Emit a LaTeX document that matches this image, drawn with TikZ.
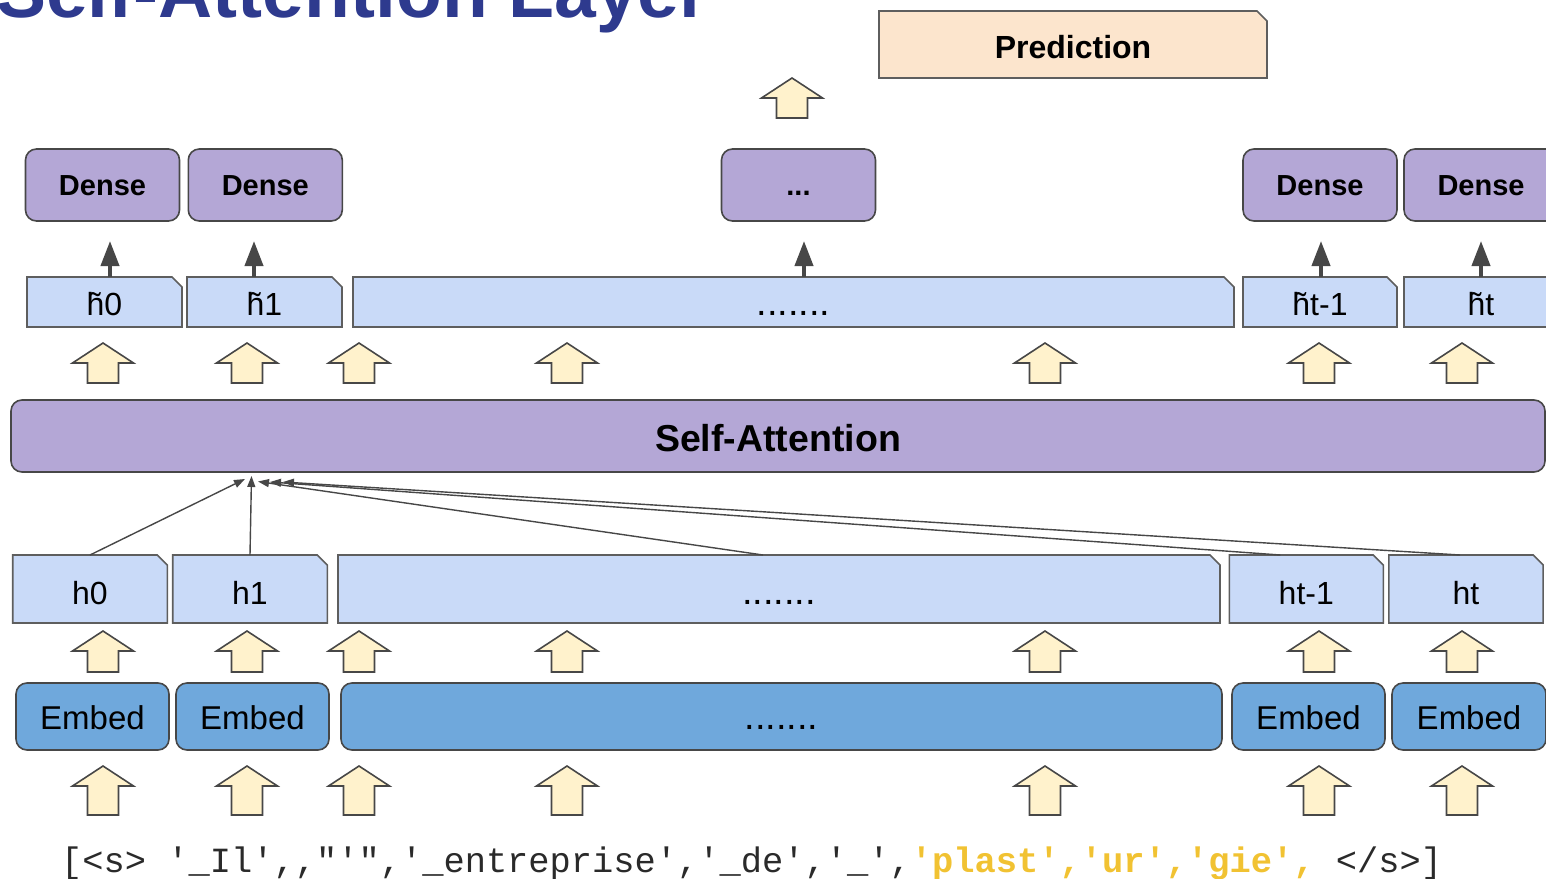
\documentclass[tikz,border=0pt]{standalone}
\usepackage{fontspec}
\setmainfont{Liberation Sans}
\setmonofont{Liberation Mono}
\usetikzlibrary{arrows.meta,backgrounds,calc}

\definecolor{densefill}{HTML}{B4A7D6}
\definecolor{hidfill}{HTML}{C9DAF8}
\definecolor{embfill}{HTML}{6FA8DC}
\definecolor{predfill}{HTML}{FCE5CD}
\definecolor{yelfill}{HTML}{FFF2CC}
\definecolor{edge}{HTML}{474747}
\definecolor{softedge}{HTML}{5E5E5E}
\definecolor{titleblue}{HTML}{2E3A8E}
\definecolor{tokgold}{HTML}{F1C232}
\definecolor{tokgray}{HTML}{2A2A2A}

% outline of a box whose top-right corner is cut off
\newcommand\snipout[2]{%
  \draw[snipline] (#1.south west) -- (#1.north west) -- ([xshift=-#2]#1.north east)
    -- ([yshift=-#2]#1.north east) -- (#1.south east) -- cycle;}
% a row of dots set on the label baseline
\newcommand\dotrow{{\fontsize{38}{40}\selectfont .......}}

\begin{document}
\begin{tikzpicture}[x=1pt,y=-1pt,
  roundbox/.style={draw=edge, line width=1.6pt, rounded corners=11pt,
    inner sep=0pt, outer sep=0pt, align=center},
  densebox/.style={roundbox, fill=densefill, minimum width=154pt, minimum height=72pt,
    text height=20.8pt, text depth=0pt, font=\bfseries\fontsize{29}{32}\selectfont},
  embbox/.style={roundbox, fill=embfill, minimum height=67pt,
    text height=26.6pt, text depth=0pt, font=\fontsize{33}{36}\selectfont},
  hidbox/.style={inner sep=0pt, outer sep=0pt, minimum height=68pt,
    text height=31pt, text depth=0pt, font=\fontsize{32}{36}\selectfont},
  tildebox/.style={inner sep=0pt, outer sep=0pt, minimum height=50pt,
    text height=27pt, text depth=0pt, font=\fontsize{32}{36}\selectfont},
  snipline/.style={draw=softedge, fill=hidfill, line width=1.6pt, line join=miter},
  attn/.style={draw=edge, line width=1.4pt, -{Triangle[length=11pt,width=8pt]}},
  darr/.style={draw=edge, line width=4pt, -{Triangle[length=25pt,width=18pt]}},
  yarrow/.style={fill=yelfill, draw=edge, line width=1.6pt, line join=miter},
  pics/blockup/.style={code={
    \draw[yarrow] (0,0) -- (30.5,20) -- (15.5,20) -- (15.5,#1) -- (-15.5,#1)
      -- (-15.5,20) -- (-30.5,20) -- cycle;}}
]
\useasboundingbox (0,0) rectangle (1546,878);

% heading, partly above the page
\node[anchor=base west, text=titleblue, font=\bfseries\fontsize{75}{80}\selectfont,
  inner sep=0pt] (title) at (-4,17) {Self-Attention Layer};

% prediction box
\node[inner sep=0pt, outer sep=0pt, minimum width=388pt, minimum height=67pt,
  text height=27.6pt, text depth=0pt,
  font=\bfseries\fontsize{32}{36}\selectfont] (pred) at (1073,44.5) {Prediction};
\begin{scope}[on background layer]
  \draw[snipline, fill=predfill] (pred.south west) -- (pred.north west)
    -- ([xshift=-10pt]pred.north east) -- ([yshift=-10pt]pred.north east)
    -- (pred.south east) -- cycle;
\end{scope}
\pic at (792,78) {blockup=40};

% dense layer
\node[densebox] (d0) at (102.5,185) {Dense};
\node[densebox] (d1) at (265.3,185) {Dense};
\node[densebox] (dd) at (798.5,185) {...};
\node[densebox] (d3) at (1320,185) {Dense};
\node[densebox] (d4) at (1481,185) {Dense};

% attended states
\node[tildebox, minimum width=155pt] (ht0) at (104.5,302) {h̃0};
\node[tildebox, minimum width=155pt] (ht1) at (264.5,302) {h̃1};
\node[tildebox, minimum width=881pt] (htd) at (793.5,302) {\dotrow};
\node[tildebox, minimum width=154pt] (ht3) at (1320,302) {h̃t-1};
\node[tildebox, minimum width=154pt] (ht4) at (1481,302) {h̃t};

% self-attention block
\node[roundbox, fill=densefill, minimum width=1534pt, minimum height=72pt,
  text height=30pt, text depth=0pt,
  font=\bfseries\fontsize{37.5}{40}\selectfont] (sa) at (778,436) {Self-Attention};

% hidden states
\node[hidbox, minimum width=154.6pt] (h0) at (90,589) {h0};
\node[hidbox, minimum width=154.6pt] (h1) at (250,589) {h1};
\node[hidbox, minimum width=882pt] (hd) at (779,589) {\dotrow};
\node[hidbox, minimum width=154pt] (h3) at (1306.3,589) {ht-1};
\node[hidbox, minimum width=154.3pt] (h4) at (1466,589) {ht};

\begin{scope}[on background layer]
  \foreach \n in {ht0,ht1,htd,ht3,ht4,h0,h1,hd,h3,h4} {\snipout{\n}{10pt}}
\end{scope}

% embeddings
\node[embbox, minimum width=153pt] (e0) at (92.5,716.5) {Embed};
\node[embbox, minimum width=153pt] (e1) at (252.5,716.5) {Embed};
\node[embbox, minimum width=881pt] (ed) at (781.5,716.5) {\dotrow};
\node[embbox, minimum width=153pt] (e3) at (1308.5,716.5) {Embed};
\node[embbox, minimum width=154pt] (e4) at (1469,716.5) {Embed};

% block arrows between the layers
\foreach \x in {103,247,359,567,1045,1319,1462} {
  \pic at (\x,343) {blockup=40};
  \pic at (\x,631) {blockup=41};
  \pic at (\x,766) {blockup=49};
}

% dense heads fed by the attended states
\draw[darr] ([xshift=5.5pt]ht0.north) -- ([xshift=5.5pt,yshift=-20pt]ht0.north |- d0.south);
\draw[darr] ([xshift=-10.5pt]ht1.north) -- ([xshift=-10.5pt,yshift=-20pt]ht1.north |- d1.south);
\draw[darr] ([xshift=10.5pt]htd.north) -- ([xshift=10.5pt,yshift=-20pt]htd.north |- dd.south);
\draw[darr] ([xshift=1pt]ht3.north) -- ([xshift=1pt,yshift=-20pt]ht3.north |- d3.south);
\draw[darr] (ht4.north) -- ([yshift=-20pt]ht4.north |- d4.south);

% attention from every hidden state to one position
\coordinate (t0) at (245,479);
\coordinate (t1) at (251.5,476);
\coordinate (t2) at (258,481.5);
\coordinate (t3) at (270,482);
\coordinate (t4) at (283,482);
\draw[attn] (h0.north) -- (t0);
\draw[attn] (h1.north) -- (t1);
\draw[attn] ([xshift=-16pt]hd.north) -- (t2);
\draw[attn] ([xshift=-26pt]h3.north) -- (t3);
\draw[attn] ([xshift=-6pt]h4.north) -- (t4);

% input tokens
\node[anchor=base west, inner sep=0pt, text=tokgray,
  font=\ttfamily\fontsize{35.4}{40}\selectfont] (tokens) at (61,872)
  {[<s> '\_Il',,"'",'\_entreprise','\_de','\_',\textcolor{tokgold}{\bfseries 'plast','ur','gie',} </s>]};
\end{tikzpicture}
\end{document}
